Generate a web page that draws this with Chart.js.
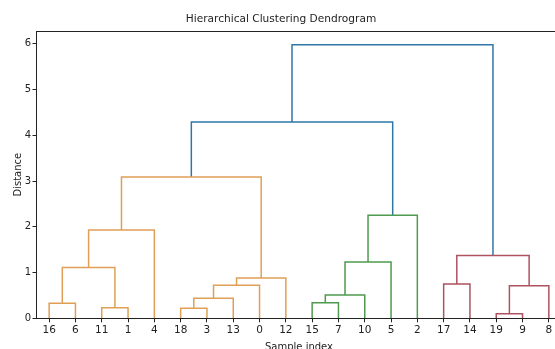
<!DOCTYPE html>
<html lang="en">
<head>
    <meta charset="UTF-8">
    <title>Hierarchical Clustering Dendrogram</title>
    <style>
        body { margin: 0; overflow: hidden; background: #fff; }
        canvas { display: block; }
    </style>
</head>
<body>
<canvas id="dendroChart" width="580" height="356"></canvas>

<script src="https://cdn.jsdelivr.net/npm/chart.js@4.4.1/dist/chart.umd.min.js"></script>
<script>
    // leaves in the order they appear along the x axis
    const leafLabels = ['16', '6', '11', '1', '4', '18', '3', '13', '0', '12',
                        '15', '7', '10', '5', '2', '17', '14', '19', '9', '8'];

    // merges: left child, right child, height, colour group
    // children are leaf labels or names of earlier merges
    const mergeNames  = ['A', 'B', 'C', 'D', 'E', 'F', 'G', 'H', 'I', 'J', 'K', 'L', 'M', 'N', 'O', 'P', 'Q', 'R', 'S'];
    const mergeLeft   = ['16', '11', 'A', 'C', '18', 'E', 'F', 'G', 'D', '15', 'J', 'K', 'L', 'I', '17', '19', 'P', 'O', 'N'];
    const mergeRight  = ['6', '1', 'B', '4', '3', '13', '0', '12', 'H', '7', '10', '5', '2', 'M', '14', '9', '8', 'Q', 'R'];
    const mergeHeight = [0.33, 0.23, 1.11, 1.93, 0.22, 0.44, 0.72, 0.88, 3.09, 0.34, 0.51, 1.23, 2.25, 4.29, 0.75, 0.10, 0.71, 1.37, 5.98];
    const mergeGroup  = ['C1', 'C1', 'C1', 'C1', 'C1', 'C1', 'C1', 'C1', 'C1', 'C2', 'C2', 'C2', 'C2', 'C0', 'C3', 'C3', 'C3', 'C3', 'C0'];

    const groupColors = { C0: '#2f77a9', C1: '#dfa056', C2: '#4e9a4e', C3: '#ad5360' };

    // node positions in dendrogram coordinates (leaf i sits at 5 + 10 * i)
    const nodeX = {};
    const nodeY = {};
    leafLabels.forEach((lab, i) => { nodeX[lab] = 5 + 10 * i; nodeY[lab] = 0; });

    const datasets = [];
    mergeNames.forEach((name, k) => {
        const a = mergeLeft[k], b = mergeRight[k], h = mergeHeight[k];
        nodeX[name] = (nodeX[a] + nodeX[b]) / 2;
        nodeY[name] = h;
        datasets.push({
            data: [
                { x: nodeX[a], y: nodeY[a] },
                { x: nodeX[a], y: h },
                { x: nodeX[b], y: h },
                { x: nodeX[b], y: nodeY[b] }
            ],
            showLine: true,
            borderColor: groupColors[mergeGroup[k]],
            borderWidth: 1.5,
            pointRadius: 0,
            fill: false,
            tension: 0
        });
    });

    const topHeight = Math.max(...mergeHeight);

    // box around the plot area like matplotlib's spines
    const frame = {
        id: 'frame',
        afterDatasetsDraw(chart) {
            const { ctx, chartArea: a } = chart;
            ctx.save();
            ctx.strokeStyle = '#222';
            ctx.lineWidth = 1;
            ctx.strokeRect(Math.round(a.left) + 0.5, Math.round(a.top) + 0.5,
                           Math.round(a.right - a.left), Math.round(a.bottom - a.top));
            ctx.restore();
        }
    };

    const font = { family: 'DejaVu Sans', size: 10 };

    new Chart(document.getElementById('dendroChart'), {
        type: 'scatter',
        data: { datasets },
        plugins: [frame],
        options: {
            responsive: false,
            animation: false,
            layout: { padding: { left: 0, right: 18, top: 0, bottom: 0 } },
            plugins: {
                legend: { display: false },
                tooltip: { enabled: false },
                title: {
                    display: true,
                    text: 'Hierarchical Clustering Dendrogram',
                    color: '#222',
                    font: { family: 'DejaVu Sans', size: 10.6, weight: 'normal' },
                    padding: { top: 12.6, bottom: 5.7 }
                }
            },
            scales: {
                x: {
                    type: 'linear',
                    min: 0,
                    max: leafLabels.length * 10,
                    border: { display: false },
                    grid: { drawOnChartArea: false, tickLength: 4, color: '#222' },
                    afterBuildTicks: scale => {
                        scale.ticks = leafLabels.map((_, i) => ({ value: 5 + 10 * i }));
                    },
                    afterFit: scale => { scale.height = 37.7; },
                    ticks: {
                        autoSkip: false,
                        maxRotation: 0,
                        padding: 2,
                        color: '#222',
                        font: { family: 'DejaVu Sans', size: 10.5 },
                        callback: v => leafLabels[Math.round((v - 5) / 10)]
                    },
                    title: {
                        display: true,
                        text: 'Sample index',
                        color: '#222',
                        font,
                        padding: { top: 0, bottom: 3 }
                    }
                },
                y: {
                    min: 0,
                    max: topHeight * 1.05,
                    border: { display: false },
                    grid: { drawOnChartArea: false, tickLength: 3.5, color: '#222' },
                    afterFit: scale => { scale.width = 36; },
                    ticks: {
                        stepSize: 1,
                        includeBounds: false,
                        padding: 1.5,
                        color: '#222',
                        font
                    },
                    title: {
                        display: true,
                        text: 'Distance',
                        color: '#222',
                        font,
                        padding: { top: 12, bottom: 0 }
                    }
                }
            }
        }
    });
</script>
</body>
</html>
